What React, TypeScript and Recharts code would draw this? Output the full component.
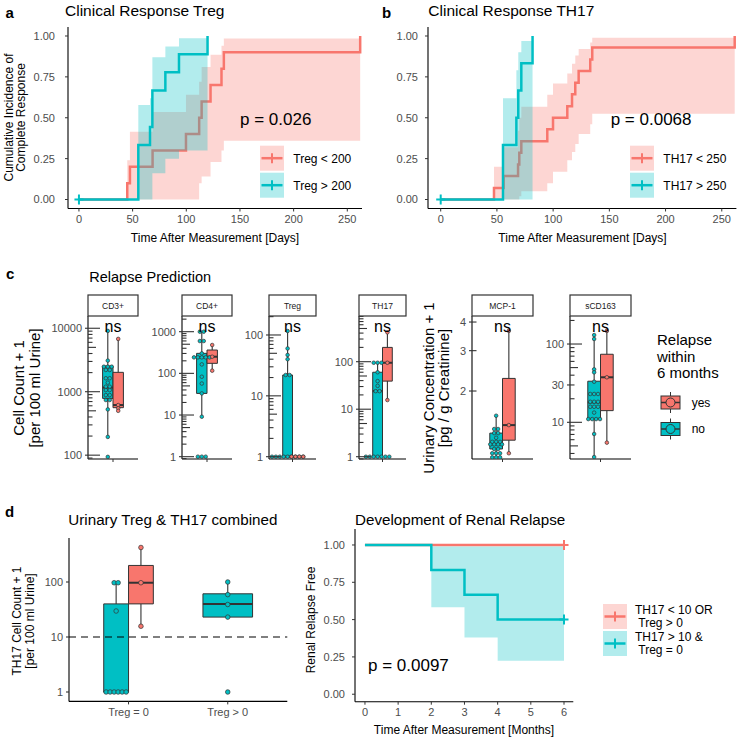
import {
  ComposedChart,
  XAxis,
  YAxis,
  Line,
  Area,
  Scatter,
  ReferenceArea,
  ReferenceLine,
} from "recharts";

const RED = "#F8766D";
const TEAL = "#00BFC4";
const INK = "#333333";
const GREY = "#4D4D4D";
const FONT = "'Liberation Sans', Arial, Helvetica, sans-serif";

// ---- a: Clinical Response Treg (cumulative incidence over days)
const aLowT = [0, 45, 47.5, 68.6, 99.7, 112, 114.3, 122.6, 132.8, 135, 262];
const aLowS = [0, 0.1, 0.2, 0.3, 0.4, 0.5, 0.6, 0.7, 0.8, 0.9, 1];
const aLowBandT = [45, 47.5, 68.6, 99.7, 112, 114.3, 122.6, 132.8, 135, 262];
const aLowBandLo = [0, 0, 0, 0, 0.1, 0.14, 0.23, 0.3, 0.36, 0.36];
const aLowBandHi = [0.24, 0.415, 0.535, 0.64, 0.72, 0.81, 0.885, 0.94, 0.985, 0.985];
const aHighT = [0, 55.3, 66.2, 68.4, 80.5, 93.2, 119.8];
const aHighS = [0, 0.333, 0.444, 0.667, 0.778, 0.889, 1];
const aHighBandT = [55.3, 66.2, 68.4, 80.5, 93.2, 119.8];
const aHighBandLo = [0, 0, 0.16, 0.25, 0.3, 0.3];
const aHighBandHi = [0.578, 0.62, 0.87, 0.935, 0.986, 0.986];
const aLegend = ["Treg < 200", "Treg > 200"];

// ---- b: Clinical Response TH17
const bLowT = [0, 47.4, 56, 68.8, 69.9, 71.7, 94.8, 99.9, 112.6, 116.8, 119.7, 122.7, 133, 134.8, 261.5];
const bLowS = [0, 0.071, 0.143, 0.214, 0.286, 0.357, 0.429, 0.5, 0.571, 0.643, 0.714, 0.786, 0.857, 0.929, 1];
const bLowBandT = [47.4, 56, 68.8, 69.9, 71.7, 94.8, 99.9, 112.6, 116.8, 119.7, 122.7, 133, 134.8, 261.5];
const bLowBandLo = [0, 0, 0, 0.02, 0.05, 0.1, 0.17, 0.24, 0.29, 0.34, 0.4, 0.46, 0.525, 0.525];
const bLowBandHi = [0.2, 0.32, 0.42, 0.5, 0.567, 0.64, 0.71, 0.77, 0.83, 0.88, 0.92, 0.96, 0.99, 0.99];
const bHighT = [0, 55.4, 67.3, 69, 71.7, 81.7];
const bHighS = [0, 0.333, 0.5, 0.667, 0.833, 1];
const bHighBandT = [55.4, 67.3, 69, 71.7, 81.7];
const bHighBandLo = [0, 0, 0, 0, 0];
const bHighBandHi = [0.62, 0.79, 0.9, 0.97, 0.97];
const bLegend = ["TH17 < 250", "TH17 > 250"];

const dayTicks = [0, 50, 100, 150, 200, 250];
const survTicks = [0, 0.25, 0.5, 0.75, 1];

// ---- c: relapse prediction, [lo whisker, q1, median, q3, hi whisker]
const facetNames = ["CD3+", "CD4+", "Treg", "TH17", "MCP-1", "sCD163"];
const cd3No = [9080, 3090, 2480, 2480, 2480, 2200, 2200, 1630, 1630, 1390, 1200, 1200, 1060, 1060, 885, 885, 740, 740, 526, 194, 94];
const cd3NoBox = [194, 785, 1160, 2540, 9080];
const cd3Yes = [6790, 616, 548, 500];
const cd3YesBox = [500, 560, 616, 2020, 6790];
const cd4No = [1000, 1000, 597, 597, 302, 242, 242, 242, 242, 242, 164, 83, 57, 33, 9.1, 1, 1, 1];
const cd4NoBox = [9.1, 33, 242, 302, 1000];
const cd4Yes = [479, 251, 116];
const cd4YesBox = [116, 174, 251, 363, 479];
const tregNo = [116, 60, 47, 40, 22, 22, 1, 1, 1, 1, 1, 1, 1, 1, 1];
const tregNoBox = [1, 1, 1, 22, 116];
const tregYes = [1, 1, 1, 1];
const tregYesBox = [1, 1, 1, 1, 1];
const th17No = [95, 95, 95, 60, 39, 31, 24, 24, 1, 1, 1, 1, 1, 1, 1];
const th17NoBox = [1, 1, 24, 60, 95];
const th17Yes = [415, 95, 15.6];
const th17YesBox = [15.6, 39, 95, 200, 415];
const mcpNo = [1.56, 1.365, 1.365, 1.31, 1.31, 1.25, 1.2, 1.2, 1.2, 1.17, 1.17, 1.17, 1.17, 1.117, 1.117, 1.07, 1.07, 1.07, 1.027, 1.027, 1.027];
const mcpNoBox = [1.027, 1.117, 1.17, 1.31, 1.56];
const mcpYes = [3.66, 1.42, 1.07];
const mcpYesBox = [1.07, 1.22, 1.42, 2.27, 3.66];
const scdNo = [130, 116, 47.5, 43.5, 33, 23, 23, 23, 18.3, 18.3, 18.3, 15.8, 15.8, 15.8, 13.3, 11, 11, 11, 11, 7.1, 3.6];
const scdNoBox = [3.6, 11, 18, 33.5, 130];
const scdYes = [147, 37.6, 5.5];
const scdYesBox = [5.5, 14.1, 37.6, 74, 147];

const cd3Labels = [100, 1000, 10000];
const cd4Labels = [1, 10, 100, 1000];
const tregLabels = [1, 10, 100];
const th17Labels = [1, 10, 100];
const mcpLabels = [2, 3, 4];
const scdLabels = [10, 30, 100];
const relapseNames = ["yes", "no"];

// ---- d: combined Treg & TH17, and renal relapse
const combCats = ["Treg = 0", "Treg > 0"];
const combZeroNo = [97, 97, 29.7, 1, 1, 1, 1, 1, 1];
const combZeroNoBox = [1, 1, 1, 40, 97];
const combZeroYes = [424, 97, 15.7];
const combZeroYesBox = [15.7, 40, 97, 200, 424];
const combPosNo = [100, 59, 39, 23, 1];
const combPosNoBox = [23, 23, 40, 61, 100];
const combLabels = [1, 10, 100];
const th17Cutoff = 10;

const dLowT = [0, 6];
const dLowS = [1, 1];
const dHighT = [0, 2, 3, 4, 6];
const dHighS = [1, 0.833, 0.667, 0.5, 0.5];
const dHighBandT = [2, 3, 4, 6];
const dHighBandLo = [0.583, 0.38, 0.225, 0.225];
const dHighBandHi = [0.99, 0.99, 0.99, 0.99];
const monthTicks = [0, 1, 2, 3, 4, 5, 6];

type Row = { t: number; s: number };
type BandRow = { t: number; range: number[] };

const steps = (t: number[], s: number[]): Row[] => t.map((v, i) => ({ t: v, s: s[i] }));
const band = (t: number[], lo: number[], hi: number[]): BandRow[] =>
  t.map((v, i) => ({ t: v, range: [lo[i], hi[i]] }));

// censoring marks sit at the first or last observation of a curve
const lastOf = (t: number[], s: number[]): Row[] => [{ t: t[t.length - 1], s: s[s.length - 1] }];
const firstOf = (t: number[], s: number[]): Row[] => [{ t: t[0], s: s[0] }];

interface Curve {
  color: string;
  line: Row[];
  band?: BandRow[];
  censor?: Row[];
}

const MT = 4;
const MR = 4;

const plusShape = (color: string) => (p: any) => (
  <g>
    <line x1={p.cx - 4.5} x2={p.cx + 4.5} y1={p.cy} y2={p.cy} stroke={color} strokeWidth={2} />
    <line x1={p.cx} x2={p.cx} y1={p.cy - 5} y2={p.cy + 5} stroke={color} strokeWidth={2} />
  </g>
);

function KMPlot({
  plot,
  xDomain,
  xTicks,
  yDomain,
  yGap,
  curves,
}: {
  plot: number[];
  xDomain: number[];
  xTicks: number[];
  yDomain: number[];
  yGap: number;
  curves: Curve[];
}) {
  const [x0, y0, x1, y1] = plot;
  const yw = 50;
  const xh = 22;
  return (
    <div style={{ position: "absolute", left: x0 - yw, top: y0 - MT }}>
      <ComposedChart
        width={x1 - x0 + yw + MR}
        height={y1 - y0 + MT + xh}
        margin={{ top: MT, right: MR, bottom: 0, left: 0 }}
      >
        <XAxis
          type="number"
          dataKey="t"
          domain={xDomain}
          ticks={xTicks}
          interval={0}
          allowDataOverflow
          height={xh}
          tickSize={3}
          tickMargin={4}
          tick={{ fontSize: 11, fill: GREY }}
          axisLine={{ stroke: "#000", strokeWidth: 1.1 }}
          tickLine={{ stroke: INK }}
        />
        <YAxis
          type="number"
          dataKey="s"
          domain={yDomain}
          ticks={survTicks}
          interval={0}
          allowDataOverflow
          width={yw}
          tickSize={3}
          tickMargin={yGap}
          tickFormatter={(v: number) => v.toFixed(2)}
          tick={{ fontSize: 11, fill: GREY }}
          axisLine={{ stroke: "#000", strokeWidth: 1.1 }}
          tickLine={{ stroke: INK }}
        />
        {/* later curves sit above earlier ones: band, then its line */}
        {curves.map((c, i) => [
          c.band ? (
            <Area
              key={`band${i}`}
              data={c.band}
              dataKey="range"
              type="stepAfter"
              fill={c.color}
              fillOpacity={0.3}
              stroke="none"
              zIndex={100 + i * 310}
              isAnimationActive={false}
            />
          ) : null,
          <Line
            key={`line${i}`}
            data={c.line}
            dataKey="s"
            type="stepAfter"
            stroke={c.color}
            strokeWidth={2.5}
            dot={false}
            zIndex={400 + i * 20}
            isAnimationActive={false}
          />,
        ])}
        {curves.map((c, i) =>
          c.censor ? (
            <Scatter
              key={`cens${i}`}
              data={c.censor}
              dataKey="s"
              shape={plusShape(c.color)}
              isAnimationActive={false}
            />
          ) : null,
        )}
      </ComposedChart>
    </div>
  );
}

function logTicks(lo: number, hi: number): number[] {
  const out: number[] = [];
  for (let e = Math.floor(Math.log10(lo)); e <= Math.ceil(Math.log10(hi)); e++) {
    for (let m = 1; m <= 9; m++) {
      const v = m * Math.pow(10, e);
      if (v >= lo && v <= hi) out.push(v);
    }
  }
  return out;
}

// annotation_logticks look: long at decades, medium at 5s, short otherwise
function LogTick(props: any) {
  const { x, y, payload, labels, inner } = props;
  const v = payload.value as number;
  const e = Math.floor(Math.log10(v) + 1e-9);
  const m = Math.round(v / Math.pow(10, e));
  const len = !inner ? 0 : m === 1 ? 12 : m === 5 ? 8 : 4.5;
  const labelled = labels.includes(v);
  return (
    <g>
      {len > 0 && <line x1={x} x2={x + len} y1={y} y2={y} stroke={INK} strokeWidth={1.1} />}
      {labelled && <line x1={x - 3} x2={x} y1={y} y2={y} stroke={INK} strokeWidth={1.1} />}
      {labelled && (
        <text x={x - 6} y={y} dy="0.36em" textAnchor="end" fontSize={11} fill={GREY}>
          {v}
        </text>
      )}
    </g>
  );
}

interface Group {
  values: number[];
  stats: number[];
  color: string;
  at: number;
  half: number;
}

// dotplot-like: equal values are laid side by side around the group centre
function stackDots(values: number[], center: number, step: number) {
  const counts = new Map<number, number>();
  values.forEach((v) => counts.set(v, (counts.get(v) || 0) + 1));
  const seen = new Map<number, number>();
  return values.map((v) => {
    const n = counts.get(v) || 1;
    const i = seen.get(v) || 0;
    seen.set(v, i + 1);
    return { x: center + (i - (n - 1) / 2) * step, y: v };
  });
}

const dotShape = (color: string, r: number) => (p: any) => (
  <circle cx={p.cx} cy={p.cy} r={r} fill={color} stroke={INK} strokeWidth={0.7} />
);

function BoxPlot({
  plot,
  yDomain,
  yLabels,
  inner,
  groups,
  xDomain,
  xTicks,
  xFormat,
  xh,
  dotR,
  dotStep,
  refY,
}: {
  plot: number[];
  yDomain: number[];
  yLabels: number[];
  inner: boolean;
  groups: Group[];
  xDomain: number[];
  xTicks: number[];
  xFormat: (v: number) => string;
  xh: number;
  dotR: number;
  dotStep: number;
  refY?: number;
}) {
  const [x0, y0, x1, y1] = plot;
  const yw = 44;
  const unit = (x1 - x0) / (xDomain[1] - xDomain[0]);
  const ticks = inner ? logTicks(yDomain[0], yDomain[1]) : yLabels;
  return (
    <div style={{ position: "absolute", left: x0 - yw, top: y0 - MT }}>
      <ComposedChart
        width={x1 - x0 + yw + MR}
        height={y1 - y0 + MT + xh}
        margin={{ top: MT, right: MR, bottom: 0, left: 0 }}
      >
        <XAxis
          type="number"
          dataKey="x"
          domain={xDomain}
          ticks={xTicks}
          interval={0}
          allowDataOverflow
          height={xh}
          tickSize={3}
          tickMargin={4}
          tickFormatter={xFormat}
          tick={{ fontSize: 11, fill: GREY }}
          axisLine={{ stroke: "#000", strokeWidth: 1.1 }}
          tickLine={{ stroke: INK }}
        />
        <YAxis
          type="number"
          dataKey="y"
          scale="log"
          domain={yDomain}
          ticks={ticks}
          interval={0}
          allowDataOverflow
          width={yw}
          tickSize={0}
          tickMargin={0}
          tickLine={false}
          axisLine={{ stroke: "#000", strokeWidth: 1.1 }}
          tick={(p: any) => <LogTick {...p} labels={yLabels} inner={inner} />}
        />
        {groups.map((g, i) => (
          <ReferenceArea
            key={`box${i}`}
            x1={g.at - g.half}
            x2={g.at + g.half}
            y1={g.stats[1]}
            y2={g.stats[3]}
            fill={g.color}
            fillOpacity={1}
            stroke={INK}
            strokeWidth={1}
            ifOverflow="visible"
          />
        ))}
        {groups.map((g, i) => (
          <ReferenceLine
            key={`wlo${i}`}
            segment={[
              { x: g.at, y: g.stats[0] },
              { x: g.at, y: g.stats[1] },
            ]}
            stroke={INK}
            strokeWidth={1.1}
            ifOverflow="visible"
          />
        ))}
        {groups.map((g, i) => (
          <ReferenceLine
            key={`whi${i}`}
            segment={[
              { x: g.at, y: g.stats[3] },
              { x: g.at, y: g.stats[4] },
            ]}
            stroke={INK}
            strokeWidth={1.1}
            ifOverflow="visible"
          />
        ))}
        {groups.map((g, i) => (
          <ReferenceLine
            key={`med${i}`}
            segment={[
              { x: g.at - g.half, y: g.stats[2] },
              { x: g.at + g.half, y: g.stats[2] },
            ]}
            stroke={INK}
            strokeWidth={2}
            ifOverflow="visible"
          />
        ))}
        {refY !== undefined && (
          <ReferenceLine y={refY} stroke="#000" strokeWidth={1.1} strokeDasharray="7 5" />
        )}
        {groups.map((g, i) => (
          <Scatter
            key={`pts${i}`}
            data={stackDots(g.values, g.at, dotStep / unit)}
            dataKey="y"
            shape={dotShape(g.color, dotR)}
            isAnimationActive={false}
          />
        ))}
      </ComposedChart>
    </div>
  );
}

const FACET_TOP = 316;
const FACET_BOTTOM = 459;

const pair = (no: number[], noBox: number[], yes: number[], yesBox: number[]): Group[] => [
  { values: no, stats: noBox, color: TEAL, at: 0.875, half: 0.125 },
  { values: yes, stats: yesBox, color: RED, at: 1.125, half: 0.125 },
];

const facets = [
  { x0: 88, x1: 138, domain: [87, 15600], labels: cd3Labels, groups: pair(cd3No, cd3NoBox, cd3Yes, cd3YesBox) },
  { x0: 182, x1: 232, domain: [0.88, 2380], labels: cd4Labels, groups: pair(cd4No, cd4NoBox, cd4Yes, cd4YesBox) },
  { x0: 269, x1: 316, domain: [0.917, 205], labels: tregLabels, groups: pair(tregNo, tregNoBox, tregYes, tregYesBox) },
  { x0: 359, x1: 406, domain: [0.895, 916], labels: th17Labels, groups: pair(th17No, th17NoBox, th17Yes, th17YesBox) },
  { x0: 472, x1: 533, domain: [1.01, 4.25], labels: mcpLabels, groups: pair(mcpNo, mcpNoBox, mcpYes, mcpYesBox) },
  { x0: 570, x1: 631, domain: [3.4, 228], labels: scdLabels, groups: pair(scdNo, scdNoBox, scdYes, scdYesBox) },
];

function KMKey({ x, y, color }: { x: number; y: number; color: string }) {
  return (
    <g>
      <rect x={x} y={y} width={24} height={25} fill={color} fillOpacity={0.3} />
      <line x1={x + 1.5} x2={x + 22.5} y1={y + 12.5} y2={y + 12.5} stroke={color} strokeWidth={2.5} />
      <line x1={x + 12} x2={x + 12} y1={y + 7.5} y2={y + 17.5} stroke={color} strokeWidth={2} />
    </g>
  );
}

function BoxKey({ cx, cy, color }: { cx: number; cy: number; color: string }) {
  return (
    <g>
      <line x1={cx} x2={cx} y1={cy - 10.5} y2={cy + 10.5} stroke={INK} strokeWidth={1} />
      <rect x={cx - 9.5} y={cy - 6.5} width={19} height={13} fill={color} stroke={INK} strokeWidth={1} />
      <line x1={cx - 9.5} x2={cx + 9.5} y1={cy} y2={cy} stroke={INK} strokeWidth={1.5} />
      <circle cx={cx} cy={cy} r={4.5} fill={color} stroke={INK} strokeWidth={1} />
    </g>
  );
}

function VText({ x, y, size, children }: { x: number; y: number; size: number; children: string }) {
  return (
    <text transform={`translate(${x} ${y}) rotate(-90)`} textAnchor="middle" fontSize={size} fill="#000">
      {children}
    </text>
  );
}

function Overlay() {
  return (
    <svg
      width={739}
      height={741}
      fontFamily={FONT}
      style={{ position: "absolute", left: 0, top: 0, pointerEvents: "none" }}
    >
      {/* a */}
      <text x={5.5} y={17.5} fontSize={15} fontWeight="bold">a</text>
      <text x={65} y={15.7} fontSize={15.5}>Clinical Response Treg</text>
      <VText x={13} y={117.5} size={12}>Cumulative Incidence of</VText>
      <VText x={25} y={117.5} size={12}>Complete Response</VText>
      <text x={215} y={241.5} fontSize={12} textAnchor="middle">Time After Measurement [Days]</text>
      <text x={240} y={125} fontSize={17}>p = 0.026</text>
      <KMKey x={260} y={145.7} color={RED} />
      <KMKey x={260} y={172.7} color={TEAL} />
      <text x={293.3} y={163.3} fontSize={12}>{aLegend[0]}</text>
      <text x={293.3} y={190} fontSize={12}>{aLegend[1]}</text>

      {/* b */}
      <text x={382} y={17.5} fontSize={15} fontWeight="bold">b</text>
      <text x={428.3} y={15.7} fontSize={15.5}>Clinical Response TH17</text>
      <text x={582.5} y={241.5} fontSize={12} textAnchor="middle">Time After Measurement [Days]</text>
      <text x={610.7} y={125} fontSize={17}>p = 0.0068</text>
      <KMKey x={630} y={145.7} color={RED} />
      <KMKey x={630} y={172.7} color={TEAL} />
      <text x={663.3} y={163.3} fontSize={12}>{bLegend[0]}</text>
      <text x={663.3} y={190} fontSize={12}>{bLegend[1]}</text>

      {/* c */}
      <text x={6} y={279.3} fontSize={15} fontWeight="bold">c</text>
      <text x={89.3} y={282.3} fontSize={14.5}>Relapse Prediction</text>
      {facets.map((f, i) => (
        <g key={`strip${i}`}>
          <rect x={f.x0} y={295} width={f.x1 - f.x0} height={FACET_TOP - 295} fill="#fff" stroke={INK} strokeWidth={1.2} />
          <text x={(f.x0 + f.x1) / 2} y={308.5} fontSize={8.5} fill="#1A1A1A" textAnchor="middle">
            {facetNames[i]}
          </text>
          <text x={(f.x0 + f.x1) / 2} y={331.5} fontSize={16} textAnchor="middle">ns</text>
        </g>
      ))}
      <VText x={24} y={388} size={15}>Cell Count + 1</VText>
      <VText x={39.5} y={388} size={15}>[per 100 ml Urine]</VText>
      <VText x={434} y={388} size={15}>Urinary Concentration + 1</VText>
      <VText x={449} y={388} size={15}>[pg / g Creatinine]</VText>
      <text x={657} y={345} fontSize={15}>Relapse</text>
      <text x={657} y={361.7} fontSize={15}>within</text>
      <text x={657} y={378.3} fontSize={15}>6 months</text>
      <BoxKey cx={670.5} cy={402.5} color={RED} />
      <BoxKey cx={670.5} cy={429} color={TEAL} />
      <text x={691.7} y={406.7} fontSize={12}>{relapseNames[0]}</text>
      <text x={691.7} y={433.3} fontSize={12}>{relapseNames[1]}</text>

      {/* d */}
      <text x={5} y={516.7} fontSize={15} fontWeight="bold">d</text>
      <text x={68.3} y={525} fontSize={15.2}>Urinary Treg &amp; TH17 combined</text>
      <VText x={21} y={621} size={12}>TH17 Cell Count + 1</VText>
      <VText x={34} y={621} size={12}>[per 100 ml Urine]</VText>
      <text x={355} y={525} fontSize={15.2}>Development of Renal Relapse</text>
      <VText x={314.5} y={620} size={12}>Renal Relapse Free</VText>
      <text x={464} y={734.3} fontSize={12} textAnchor="middle">Time After Measurement [Months]</text>
      <text x={368} y={671} fontSize={17}>p = 0.0097</text>
      <KMKey x={603} y={604} color={RED} />
      <KMKey x={603} y={631} color={TEAL} />
      <text x={635} y={614} fontSize={12}>TH17 &lt; 10 OR</text>
      <text x={638.3} y={627.3} fontSize={12}>Treg &gt; 0</text>
      <text x={635} y={640.7} fontSize={12}>TH17 &gt; 10 &amp;</text>
      <text x={638.3} y={654.3} fontSize={12}>Treg = 0</text>
    </svg>
  );
}

export default function App() {
  const panelA: Curve[] = [
    { color: RED, line: steps(aLowT, aLowS), band: band(aLowBandT, aLowBandLo, aLowBandHi) },
    {
      color: TEAL,
      line: steps(aHighT, aHighS),
      band: band(aHighBandT, aHighBandLo, aHighBandHi),
      censor: firstOf(aHighT, aHighS),
    },
  ];
  const panelB: Curve[] = [
    { color: RED, line: steps(bLowT, bLowS), band: band(bLowBandT, bLowBandLo, bLowBandHi) },
    {
      color: TEAL,
      line: steps(bHighT, bHighS),
      band: band(bHighBandT, bHighBandLo, bHighBandHi),
      censor: firstOf(bHighT, bHighS),
    },
  ];
  const panelD: Curve[] = [
    { color: RED, line: steps(dLowT, dLowS), censor: lastOf(dLowT, dLowS) },
    {
      color: TEAL,
      line: steps(dHighT, dHighS),
      band: band(dHighBandT, dHighBandLo, dHighBandHi),
      censor: lastOf(dHighT, dHighS),
    },
  ];
  const combined: Group[] = [
    { values: combZeroNo, stats: combZeroNoBox, color: TEAL, at: 0.875, half: 0.125 },
    { values: combZeroYes, stats: combZeroYesBox, color: RED, at: 1.125, half: 0.125 },
    { values: combPosNo, stats: combPosNoBox, color: TEAL, at: 2, half: 0.25 },
  ];

  return (
    <div
      style={{
        position: "absolute",
        left: 0,
        top: 0,
        width: 739,
        height: 741,
        background: "#fff",
        fontFamily: FONT,
        overflow: "hidden",
      }}
    >
      <KMPlot plot={[68, 27, 362, 208.5]} xDomain={[-10.2, 263.7]} xTicks={dayTicks} yDomain={[-0.055, 1.055]} yGap={10} curves={panelA} />
      <KMPlot plot={[428.3, 27, 736.7, 208.5]} xDomain={[-11.3, 263]} xTicks={dayTicks} yDomain={[-0.055, 1.055]} yGap={7} curves={panelB} />
      {facets.map((f, i) => (
        <BoxPlot
          key={`facet${i}`}
          plot={[f.x0, FACET_TOP, f.x1, FACET_BOTTOM]}
          yDomain={f.domain}
          yLabels={f.labels}
          inner
          groups={f.groups}
          xDomain={[0.4, 1.6]}
          xTicks={[1]}
          xFormat={() => ""}
          xh={8}
          dotR={1.8}
          dotStep={3.9}
        />
      ))}
      <BoxPlot
        plot={[69, 538.3, 287.3, 701.7]}
        yDomain={[0.675, 631]}
        yLabels={combLabels}
        inner={false}
        groups={combined}
        xDomain={[0.4, 2.6]}
        xTicks={[1, 2]}
        xFormat={(v: number) => combCats[v - 1] ?? ""}
        xh={24}
        dotR={2.3}
        dotStep={4}
        refY={th17Cutoff}
      />
      <KMPlot plot={[355, 529, 573.3, 701.7]} xDomain={[-0.3, 6.28]} xTicks={monthTicks} yDomain={[-0.05, 1.107]} yGap={7} curves={panelD} />
      <Overlay />
    </div>
  );
}
